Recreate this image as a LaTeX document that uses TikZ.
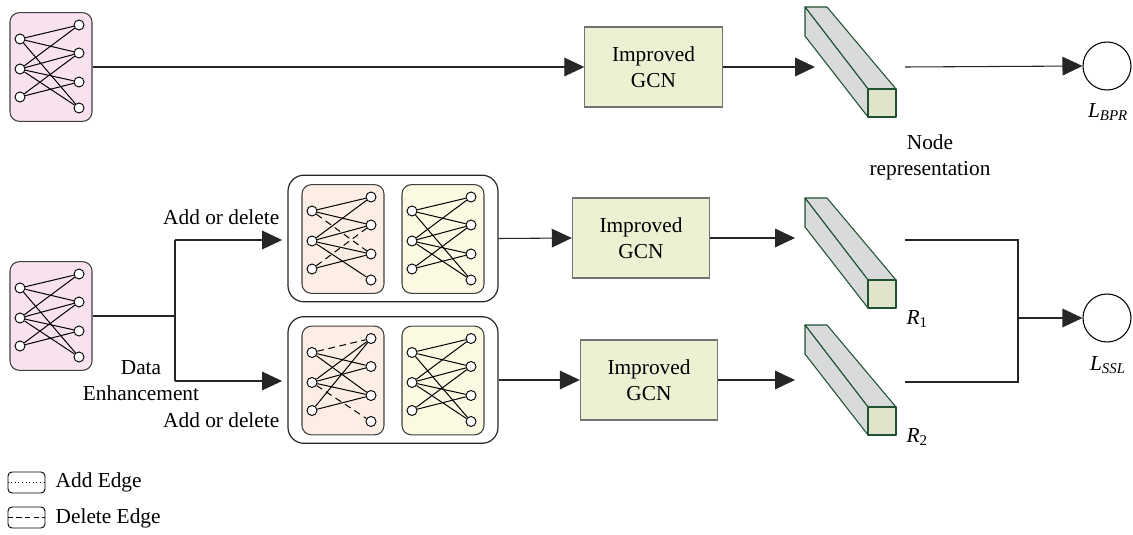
\documentclass[tikz,border=0pt]{standalone}
\usepackage{fontspec}
\setmainfont{Liberation Serif}
\usetikzlibrary{arrows.meta,positioning,calc}

\definecolor{pinkfill}{HTML}{F8E2EF}
\definecolor{orangefill}{HTML}{FCEEE4}
\definecolor{yellowfill}{HTML}{FBF9E1}
\definecolor{gcnfill}{HTML}{EBF2D4}
\definecolor{barside}{HTML}{D9DADC}
\definecolor{barfront}{HTML}{DFE4CB}
\definecolor{barline}{HTML}{1F5230}

\tikzset{
  gbox/.style={draw=black!75, rounded corners=7pt, line width=0.8pt,
    minimum width=61.5pt, minimum height=81.5pt, inner sep=0pt},
  grp/.style={draw=black!85, rounded corners=12pt, line width=0.9pt,
    minimum width=157.5pt, minimum height=95pt, inner sep=0pt},
  vtx/.style={circle, draw, fill=white, line width=0.7pt,
    minimum size=7.5pt, inner sep=0pt},
  edge/.style={line width=0.75pt},
  gcn/.style={draw=black!55, fill=gcnfill, line width=0.8pt, align=center,
    minimum width=103pt, minimum height=60pt},
  line/.style={line width=0.8pt, black!85},
  conn/.style={line, -{Triangle[length=15pt,width=14pt]}},
  loss/.style={circle, draw, line width=0.8pt, minimum size=36pt, inner sep=0pt},
  legbox/.style={draw, rounded corners=3pt, line width=0.7pt,
    minimum width=27.75pt, minimum height=15.75pt, inner sep=0pt}
}

% box with 3 + 4 vertices
\newcommand{\bigraph}[4]{%
  \node[gbox, fill=#4] (#1) at (#2,#3) {};
  \foreach \k/\dy in {1/-28,2/2,3/30}
    \node[vtx] (#1-l\k) at (#2-31,#3+\dy) {};
  \foreach \k/\dy in {1/-42,2/-14,3/15,4/41}
    \node[vtx] (#1-r\k) at (#2+28,#3+\dy) {};
}
\newcommand{\biedges}[3][]{%
  \foreach \a/\b in {#3}
    \draw[edge,#1] (#2-l\a) -- (#2-r\b);
}
% slanted bar, back top-left corner at (#1,#2)
\newcommand{\embbar}[2]{%
  \begin{scope}[shift={(#1,#2)}, draw=barline, line width=0.8pt, line join=round]
    \filldraw[fill=barside] (0,0) -- (22,0) -- (91,82) -- (63,82) -- cycle;
    \filldraw[fill=barside] (0,0) -- (63,82) -- (63,110) -- (0,29) -- cycle;
    \filldraw[fill=barfront] (63,82) rectangle (91,110);
  \end{scope}
}

\begin{document}
\begin{tikzpicture}[x=0.75pt, y=-0.75pt,
  every node/.style={font=\fontsize{16}{19.5}\selectfont}]
\useasboundingbox (0,0) rectangle (1133,535);

% ===== top row =====
\bigraph{top}{51}{67}{pinkfill}
\biedges{top}{1/1,1/2,1/4,2/1,2/2,2/3,2/4,3/2,3/3}

\node[gcn] (gcnA) at (653.5,67) {Improved\\GCN};
\embbar{805}{7}
\coordinate (barA-in) at (815,67);
\coordinate (barA-out) at (905,67);
\node[loss] (lbpr) at (1107,66) {};
\node (lbprlab) at (1108,112) {\textit{L\textsubscript{BPR}}};
\node[align=center] (noderep) at (930,157) {Node\\representation};

\draw[conn] (top.east) -- (gcnA.west);
\draw[conn] (gcnA.east) -- (barA-in);
\draw[conn] (barA-out) -- (lbpr.west);

% ===== augmented views =====
\bigraph{src}{51}{316}{pinkfill}
\biedges{src}{1/1,1/2,1/4,2/1,2/2,2/3,2/4,3/2,3/3}

\node[grp] (grpA) at (393,238.5) {};
\node[grp] (grpB) at (393,380) {};

\bigraph{augA}{343}{239}{orangefill}
\biedges{augA}{1/1,1/2,2/1,2/2,2/3,2/4,3/3}
\biedges[dash pattern=on 5pt off 3.5pt]{augA}{1/3,3/2}
\bigraph{orgA}{443}{239}{yellowfill}
\biedges{orgA}{1/1,1/2,1/4,2/1,2/2,2/3,2/4,3/2,3/3}

\bigraph{augB}{343}{380.5}{orangefill}
\biedges{augB}{1/2,1/3,2/1,2/2,2/3,3/1,3/3}
\biedges[dash pattern=on 5pt off 3.5pt]{augB}{1/1,2/4}
\bigraph{orgB}{443}{380.5}{yellowfill}
\biedges{orgB}{1/1,1/2,1/4,2/1,2/2,2/3,2/4,3/2,3/3}

% split
\coordinate (split) at (175,316);
\coordinate (splitT) at (175,240);
\coordinate (splitB) at (175,381);
\draw[line] (src.east) -- (split);
\draw[line] (splitT) -- (splitB);
\draw[conn, shorten >=4pt] (splitT) -- (splitT -| grpA.west);
\draw[conn, shorten >=4pt] (splitB) -- (splitB -| grpB.west);
\node[anchor=east] (addA) at (284,217) {Add or delete};
\node[anchor=east] (addB) at (284,420) {Add or delete};
\node[align=center] (enh) at (141,381) {Data\\Enhancement};

\node[gcn] (gcnB) at (641,238) {Improved\\GCN};
\node[gcn] (gcnC) at (649,380) {Improved\\GCN};
\draw[conn] (grpA.east) -- (gcnB.west);
\draw[conn] (grpB.east) -- (gcnC.west);

\embbar{805}{198}
\embbar{805}{325}
\coordinate (barB-in) at (795,238);
\coordinate (barC-in) at (795,380);
\coordinate (barB-out) at (905,240);
\coordinate (barC-out) at (905,382);
\draw[conn] (gcnB.east) -- (barB-in);
\draw[conn] (gcnC.east) -- (barC-in);
\node[anchor=west] (r1lab) at (902,319) {\textit{R}\textsubscript{1}};
\node[anchor=west] (r2lab) at (902,437) {\textit{R}\textsubscript{2}};

% merge
\coordinate (joinT) at (1018,240);
\coordinate (joinB) at (1018,382);
\coordinate (joinM) at (1018,318);
\node[loss] (lssl) at (1107,318) {};
\node (lssllab) at (1108,365) {\textit{L\textsubscript{SSL}}};
\draw[line] (barB-out) -- (joinT) -- (joinB) -- (barC-out);
\draw[conn] (joinM) -- (lssl.west);

% ===== legend =====
\node[legbox] (legadd) at (26.5,482.5) {};
\draw[dotted, line width=0.7pt] (legadd.west) -- (legadd.east);
\node[anchor=west] (legaddtxt) at (51,482) {Add Edge};
\node[legbox] (legdel) at (26.5,517.5) {};
\draw[dash pattern=on 4pt off 2.5pt, line width=0.7pt] (legdel.west) -- (legdel.east);
\node[anchor=west] (legdeltxt) at (51,518) {Delete Edge};
\end{tikzpicture}
\end{document}
